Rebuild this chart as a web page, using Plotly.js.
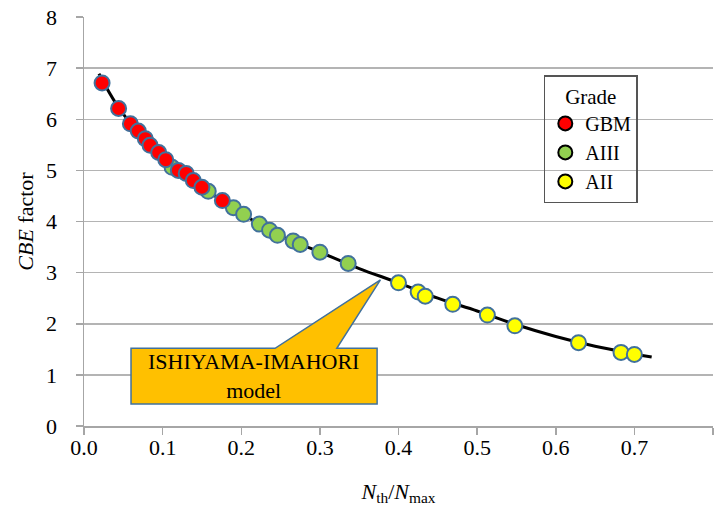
<!DOCTYPE html>
<html><head><meta charset="utf-8">
<script src="https://cdn.plot.ly/plotly-3.0.1.min.js"></script>
<style>html,body{margin:0;padding:0;background:#fff}#chart{width:720px;height:512px}</style>
</head><body><div id="chart"></div>
<script>
// Data
const gbmX  = [0.023, 0.044, 0.059, 0.069, 0.078, 0.084, 0.095, 0.104, 0.120, 0.130, 0.139, 0.150, 0.176];
const gbmY  = [6.71, 6.21, 5.91, 5.77, 5.62, 5.49, 5.35, 5.21, 5.00, 4.94, 4.80, 4.67, 4.41];
const aiiiX = [0.112, 0.158, 0.190, 0.203, 0.223, 0.236, 0.246, 0.266, 0.275, 0.300, 0.336];
const aiiiY = [5.06, 4.59, 4.27, 4.14, 3.95, 3.83, 3.73, 3.62, 3.55, 3.40, 3.18];
const aiiX  = [0.400, 0.425, 0.434, 0.469, 0.513, 0.548, 0.629, 0.683, 0.700];
const aiiY  = [2.80, 2.62, 2.54, 2.38, 2.17, 1.96, 1.63, 1.44, 1.40];
const modelX = [0.019, 0.05, 0.10, 0.15, 0.20, 0.25, 0.30, 0.35, 0.40, 0.45, 0.50, 0.55, 0.60, 0.65, 0.70, 0.722];
const modelY = [6.89, 6.10, 5.30, 4.68, 4.16, 3.72, 3.40, 3.08, 2.80, 2.50, 2.25, 1.98, 1.75, 1.56, 1.41, 1.35];
const gradeNames = ['GBM', 'AIII', 'AII'];
const gradeColors = ['#FF0000', '#92D050', '#FFFF00'];
const xTickVals = [0, 0.1, 0.2, 0.3, 0.4, 0.5, 0.6, 0.7, 0.8];
const yTickVals = [0, 1, 2, 3, 4, 5, 6, 7, 8];
const calloutText = 'ISHIYAMA-IMAHORI<br>model';

const serif = 'Liberation Serif, Times New Roman, serif';
const outline = '#41719C';

function pts(x, y, name, color) {
  return {x: x, y: y, name: name, type: 'scatter', mode: 'markers', showlegend: false,
    marker: {size: 15, color: color, line: {color: outline, width: 2}}, hoverinfo: 'x+y'};
}
function legendItem(name, color) {
  return {x: [null], y: [null], name: name, type: 'scatter', mode: 'markers',
    marker: {size: 14, color: color, line: {color: '#000', width: 2}}};
}

const data = [
  {x: modelX, y: modelY, type: 'scatter', mode: 'lines', line: {color: '#000', width: 3, shape: 'spline'}, showlegend: false, name: 'model'},
  pts(aiiX, aiiY, gradeNames[2], gradeColors[2]),
  pts(aiiiX, aiiiY, gradeNames[1], gradeColors[1]),
  pts(gbmX, gbmY, gradeNames[0], gradeColors[0]),
  legendItem(gradeNames[0], gradeColors[0]),
  legendItem(gradeNames[1], gradeColors[1]),
  legendItem(gradeNames[2], gradeColors[2])
];

const layout = {
  width: 720, height: 512,
  margin: {l: 84, r: 7, t: 17, b: 86},
  paper_bgcolor: '#fff', plot_bgcolor: '#fff',
  font: {family: serif, size: 22, color: '#000'},
  showlegend: true,
  xaxis: {
    range: [0, 0.8], tickvals: xTickVals, tickformat: '.1f',
    showgrid: false, zeroline: false, showline: true, linecolor: '#A6A6A6', linewidth: 1.5,
    ticks: 'outside', ticklen: 7, tickcolor: '#A6A6A6', tickwidth: 1.5, ticklabelstandoff: -6,
    tickfont: {family: serif, size: 22, color: '#000'},
    title: {text: '<i>N</i><sub>th</sub>/<i>N</i><sub>max</sub>', font: {family: serif, size: 22, color: '#000'}, standoff: 24}
  },
  yaxis: {
    range: [0, 8], tickvals: yTickVals,
    showgrid: true, gridcolor: '#B4B4B4', gridwidth: 1.5, zeroline: false,
    showline: true, linecolor: '#A6A6A6', linewidth: 1.5,
    ticks: 'outside', ticklen: 7, tickcolor: '#A6A6A6', tickwidth: 1.5, ticklabelstandoff: 14,
    tickfont: {family: serif, size: 22, color: '#000'},
    title: {text: '<i>CBE</i> factor', font: {family: serif, size: 22, color: '#000'}, standoff: 6}
  },
  legend: {
    x: 0.731, y: 0.858, xanchor: 'left', yanchor: 'top',
    bgcolor: 'rgba(0,0,0,0)', bordercolor: '#555', borderwidth: 1.5,
    font: {family: serif, size: 20, color: '#000'},
    title: {text: 'Grade', side: 'top center', font: {family: serif, size: 21, color: '#000'}},
    itemwidth: 30, tracegroupgap: 0
  },
  shapes: [{
    type: 'path', xref: 'x', yref: 'y',
    path: 'M 0.0598,0.43 L 0.0598,1.52 L 0.243,1.52 L 0.377,2.86 L 0.3215,1.52 L 0.3728,1.52 L 0.3728,0.43 Z',
    fillcolor: '#FFC000', line: {color: outline, width: 1.5}, layer: 'above'
  }],
  annotations: [{
    xref: 'x', yref: 'y', x: 0.216, y: 0.975, text: calloutText, showarrow: false,
    font: {family: serif, size: 22, color: '#000'}, align: 'center'
  }]
};

Plotly.newPlot('chart', data, layout, {displayModeBar: false, staticPlot: true});
</script></body></html>
